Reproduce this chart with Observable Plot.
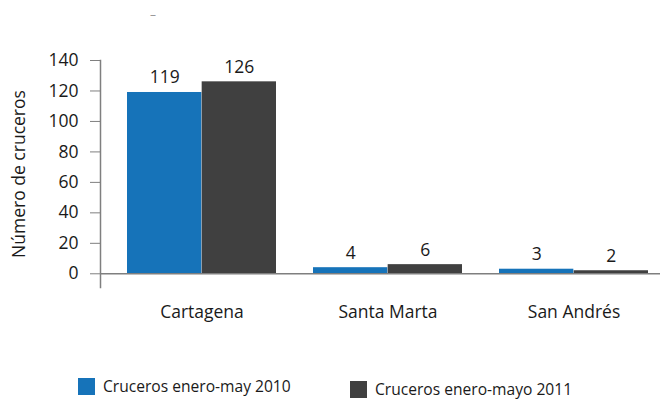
<!DOCTYPE html>
<html>
<head>
<meta charset="utf-8">
<script src="https://cdn.jsdelivr.net/npm/d3@7"></script>
<script src="https://cdn.jsdelivr.net/npm/@observablehq/plot@0.6"></script>
<style>
  body { margin: 0; background: #fff; font-family: "Open Sans", sans-serif; }
  #wrap { position: relative; width: 660px; height: 400px; overflow: hidden; }
  #chart { position: absolute; left: 0; top: 0; }
  .dash { position: absolute; left: 150px; top: 6px; color: #999; font-size: 12px; }
  .leg { position: absolute; display: flex; align-items: flex-end; font-size: 15.6px; color: #1a1a1a; }
  .sw { width: 17px; height: 17px; margin-right: 8px; margin-bottom: 2px; }
</style>
</head>
<body>
<div id="wrap">
  <div class="dash">–</div>
  <div id="chart"></div>
  <div class="leg" style="left:78px; top:375px;"><div class="sw" id="sw0"></div><span id="lg0"></span></div>
  <div class="leg" style="left:350px; top:378px;"><div class="sw" id="sw1"></div><span id="lg1"></span></div>
</div>
<script>
const categories = ["Cartagena", "Santa Marta", "San Andrés"];
const seriesNames = ["Cruceros enero-may 2010", "Cruceros enero-mayo 2011"];
const values2010 = [119, 4, 3];
const values2011 = [126, 6, 2];
const yTicks = [0, 20, 40, 60, 80, 100, 120, 140];
const colors = ["#1673B9", "#404040"];

const d2010 = categories.map((c, i) => ({cat: c, v: values2010[i]}));
const d2011 = categories.map((c, i) => ({cat: c, v: values2011[i]}));

const W = 660, H = 340, mL = 100, mR = 0, mT = 60, mB = 53;
const xOpts = {type: "band", domain: categories, paddingInner: 0.2, paddingOuter: 0.1, align: 0.7};
const bw = Plot.scale({x: {...xOpts, range: [mL, W - mR]}}).bandwidth;
const half = bw / 2;

const chart = Plot.plot({
  width: W, height: H,
  marginLeft: mL, marginRight: mR, marginTop: mT, marginBottom: mB,
  style: {fontFamily: "Open Sans, sans-serif", fontSize: "16px", color: "#1a1a1a", background: "transparent"},
  x: {...xOpts, axis: null},
  y: {domain: [-9, 140], axis: null},
  marks: [
    Plot.barY(d2010, {x: "cat", y: "v", fill: colors[0], insetRight: half}),
    Plot.barY(d2011, {x: "cat", y: "v", fill: colors[1], insetLeft: half}),
    Plot.text(d2010, {x: "cat", y: "v", text: d => String(d.v), dx: -bw / 4, dy: -9, lineAnchor: "bottom", fontSize: 17.5, fill: "#1a1a1a"}),
    Plot.text(d2011, {x: "cat", y: "v", text: d => String(d.v), dx: bw / 4, dy: -9, lineAnchor: "bottom", fontSize: 17.5, fill: "#1a1a1a"}),
    Plot.ruleY([0], {stroke: "#7f7f7f", strokeWidth: 1.5}),
    Plot.frame({anchor: "left", stroke: "#7f7f7f", strokeWidth: 1.5}),
    Plot.axisY({ticks: yTicks, tickSize: 10, tickPadding: 12, stroke: "#7f7f7f", fill: "#1a1a1a", fontSize: 17.5,
      label: "Número de cruceros", labelAnchor: "center", labelOffset: 88, labelArrow: "none"}),
    Plot.axisX({tickSize: 0, tickPadding: 18, fontSize: 17.5, fill: "#1a1a1a", label: null})
  ]
});
document.getElementById("chart").appendChild(chart);
seriesNames.forEach((s, i) => {
  document.getElementById("lg" + i).textContent = s;
  document.getElementById("sw" + i).style.background = colors[i];
});
</script>
</body>
</html>
